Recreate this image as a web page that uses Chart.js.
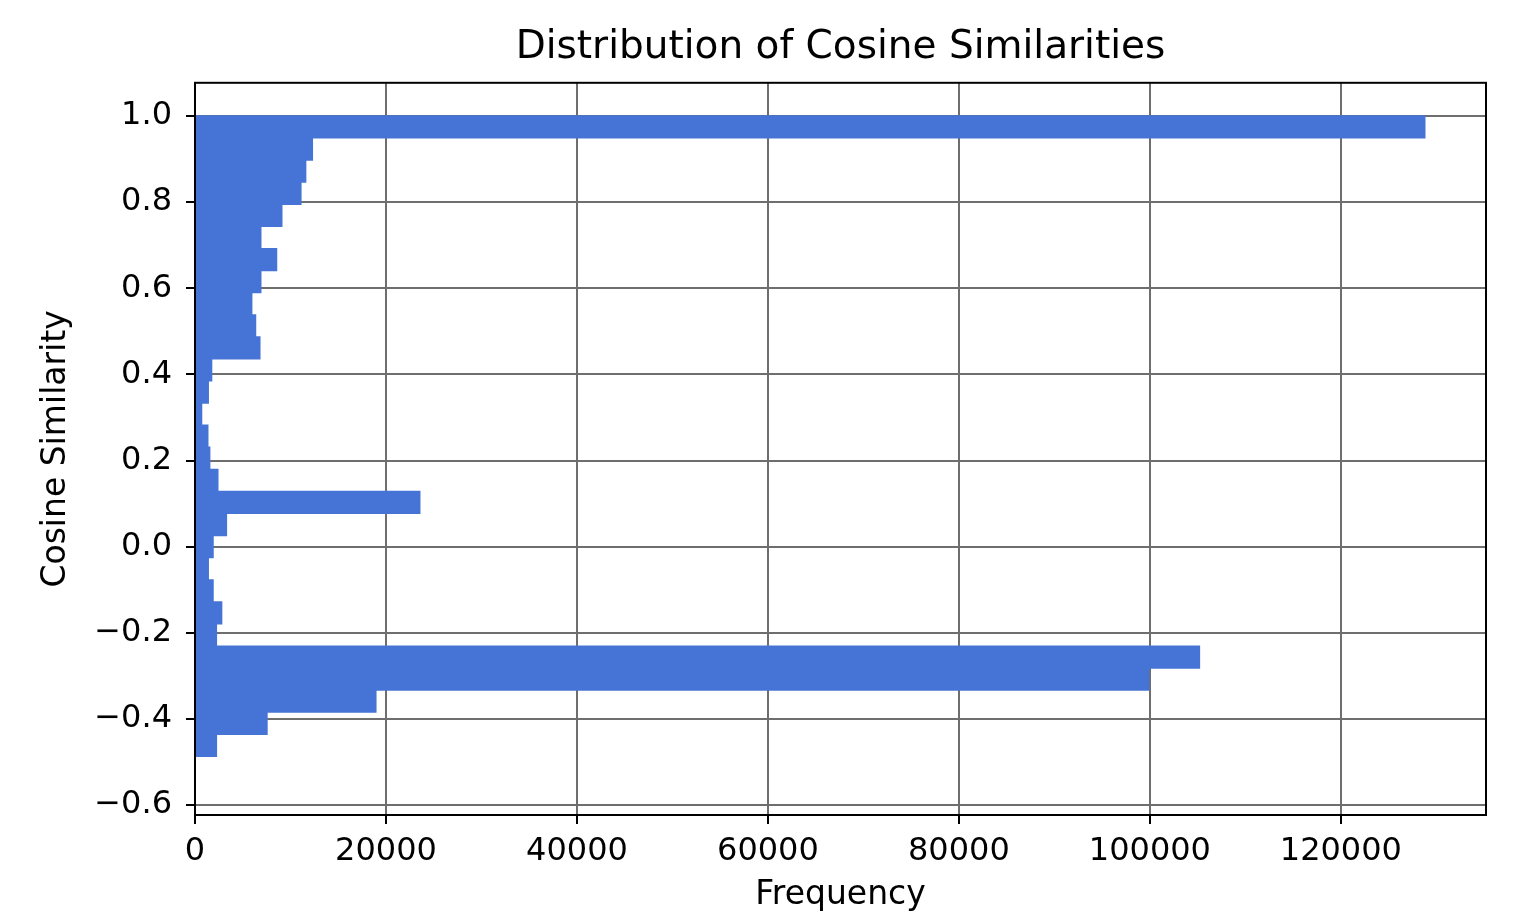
<!DOCTYPE html>
<html>
<head>
<meta charset="utf-8">
<script src="https://cdn.jsdelivr.net/npm/chart.js@4.4.1/dist/chart.umd.min.js"></script>
<style>
  body { margin: 0; background: #fff; }
  canvas { display: block; }
</style>
</head>
<body>
<canvas id="chart" width="1514" height="915"></canvas>
<script>
// bin centres (cosine similarity) and counts
const binCenters = [
  0.9744, 0.9231, 0.8718, 0.8205, 0.7693, 0.7180, 0.6667, 0.6155, 0.5642, 0.5129,
  0.4616, 0.4104, 0.3591, 0.3078, 0.2565, 0.2053, 0.1540, 0.1027, 0.0514, 0.0001,
  -0.0512, -0.1025, -0.1537, -0.2050, -0.2563, -0.3076, -0.3588, -0.4101, -0.4614
]
const frequencies = [
  128800, 12300, 11600, 11100, 9100, 6900, 8550, 6900, 5950, 6350,
  6800, 1750, 1400, 700, 1350, 1550, 2400, 23550, 3300, 1900,
  1400, 1900, 2800, 2250, 105200, 99900, 18950, 7550, 2250
]
const yTicks = [-0.6, -0.4, -0.2, 0.0, 0.2, 0.4, 0.6, 0.8, 1.0]
const xTicks = [0, 20000, 40000, 60000, 80000, 100000, 120000]

const frame = {
  id: 'frame',
  afterDraw(chart) {
    const {ctx, chartArea: a} = chart
    ctx.save()
    ctx.strokeStyle = '#000'
    ctx.lineWidth = 2
    ctx.strokeRect(a.left, a.top, a.right - a.left, a.bottom - a.top)
    ctx.restore()
  }
}

new Chart(document.getElementById('chart'), {
  type: 'bar',
  data: {
    datasets: [{
      label: 'Frequency',
      data: binCenters.map((y, i) => ({x: frequencies[i], y: y})),
      backgroundColor: '#4674d6',
      borderWidth: 0,
      inflateAmount: 0.6,
      barPercentage: 1,
      categoryPercentage: 1
    }]
  },
  options: {
    indexAxis: 'y',
    responsive: false,
    animation: false,
    layout: {padding: {right: 28}},
    plugins: {
      legend: {display: false},
      tooltip: {enabled: false},
      title: {
        display: true,
        fullSize: false,
        text: 'Distribution of Cosine Similarities',
        color: '#000',
        font: {family: 'DejaVu Sans', size: 39, weight: 'normal'},
        padding: {top: 24, bottom: 12}
      }
    },
    scales: {
      x: {
        type: 'linear',
        min: 0,
        max: 135200,
        z: 1,
        afterFit: (scale) => { scale.height = 100 },
        afterBuildTicks: (scale) => { scale.ticks = xTicks.map(v => ({value: v})) },
        grid: {color: '#6e6e6e', lineWidth: 2, tickColor: '#000', tickLength: 9},
        border: {display: true, color: '#000', width: 2},
        ticks: {
          color: '#000',
          padding: 8,
          maxRotation: 0,
          font: {family: 'DejaVu Sans', size: 32},
          callback: (v) => String(v)
        },
        title: {
          display: true,
          text: 'Frequency',
          color: '#000',
          font: {family: 'DejaVu Sans', size: 33},
          padding: {top: 0, bottom: 0}
        }
      },
      y: {
        type: 'linear',
        min: -0.623,
        max: 1.077,
        offset: false,
        z: 1,
        afterFit: (scale) => { scale.width = 195 },
        afterBuildTicks: (scale) => { scale.ticks = yTicks.map(v => ({value: v})) },
        grid: {offset: false, color: '#6e6e6e', lineWidth: 2, tickColor: '#000', tickLength: 9},
        border: {display: true, color: '#000', width: 2},
        ticks: {
          color: '#000',
          padding: 14,
          font: {family: 'DejaVu Sans', size: 32},
          callback: (v) => v.toFixed(1).replace('-', '\u2212')
        },
        title: {
          display: true,
          text: 'Cosine Similarity',
          color: '#000',
          font: {family: 'DejaVu Sans', size: 33},
          padding: {top: 37, bottom: 0}
        }
      }
    }
  },
  plugins: [frame]
})
</script>
</body>
</html>
